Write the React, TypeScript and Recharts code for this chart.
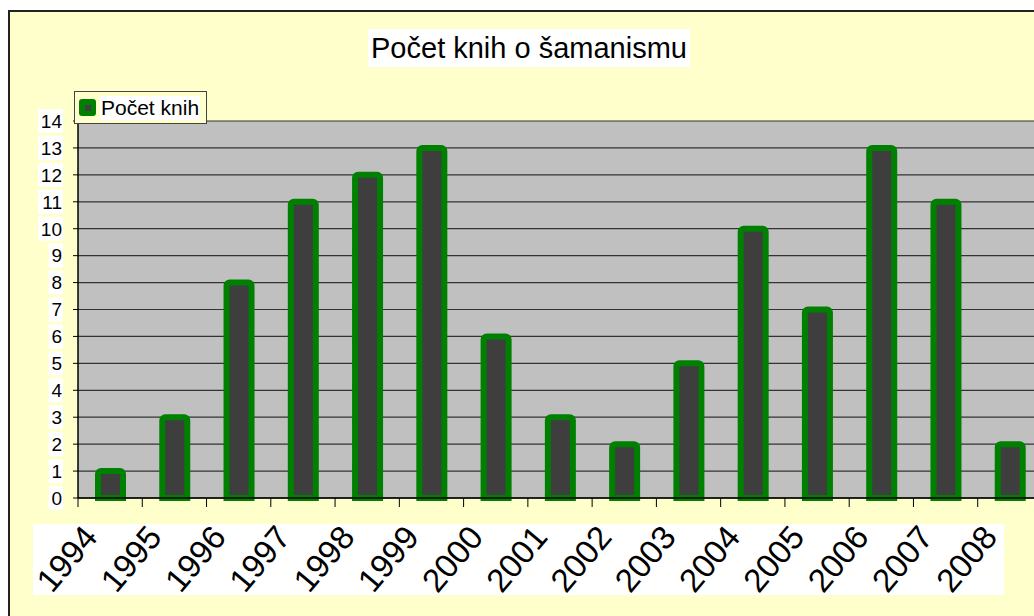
import React from 'react';
import {Bar, BarChart, CartesianGrid, Legend, XAxis, YAxis} from "recharts";

const years = ['1994', '1995', '1996', '1997', '1998', '1999', '2000', '2001', '2002', '2003', '2004', '2005', '2006', '2007', '2008'];
const bookCounts = [1, 3, 8, 11, 12, 13, 6, 3, 2, 5, 10, 7, 13, 11, 2];
const yTicks = [0, 1, 2, 3, 4, 5, 6, 7, 8, 9, 10, 11, 12, 13, 14];

const data = years.map((year, i) => ({year, count: bookCounts[i]}));

const FONT = '"Liberation Sans", Arial, sans-serif';

// plot box: left 78, top 121, right 1042 (off screen), bottom 498
const CHART_W = 1100;
const CHART_H = 616;
const MARGIN = {top: 121, right: 58, bottom: 18, left: 0};
const Y_AXIS_W = 78;
const PLOT_W = CHART_W - MARGIN.left - MARGIN.right - Y_AXIS_W;
const BAND = PLOT_W / years.length;

const YTick = (props: any) => {
    const {x, y, payload} = props;
    const label = String(payload.value);
    const w = label.length * 10.5 + 4;
    return (
        <g>
            <rect x={x - w + 1} y={y - 12} width={w} height={24} fill="#ffffff"/>
            <text x={x} y={y} dy="0.36em" textAnchor="end" fontSize={19} fontFamily={FONT} fill="#000">
                {label}
            </text>
        </g>
    );
};

const XTick = (props: any) => {
    const {x, y, payload} = props;
    const left = x - BAND / 2;
    return (
        <g>
            <line x1={left} x2={left} y1={y} y2={y + 9} stroke="#000" strokeWidth={1}/>
            <text transform={`translate(${x - 11},${y + 40}) rotate(-50)`} textAnchor="end"
                  fontSize={33} fontFamily={FONT} fill="#000">
                {payload.value}
            </text>
        </g>
    );
};

const LegendBox = () => (
    <div style={{
        width: 131, height: 31, border: '1px solid #444', background: '#ffffcc',
        display: 'flex', alignItems: 'center', fontFamily: FONT, fontSize: 21, boxSizing: 'content-box'
    }}>
        <div style={{
            width: 17, height: 17, marginLeft: 4, borderRadius: 3, background: '#008000',
            display: 'flex', alignItems: 'center', justifyContent: 'center'
        }}>
            <div style={{width: 6, height: 6, background: '#404040'}}/>
        </div>
        <span style={{background: '#fff', marginLeft: 4, lineHeight: '24px', padding: '0 1px'}}>Počet knih</span>
    </div>
);

const App = () => {
    return (
        <div style={{position: 'absolute', left: 0, top: 0, width: 1034, height: 616, overflow: 'hidden', background: '#fff'}}>
            <div style={{
                position: 'absolute', left: 8, top: 10, width: 1100, height: 700,
                background: '#ffffcc', borderLeft: '2px solid #222', borderTop: '2px solid #222'
            }}/>
            <div style={{position: 'absolute', left: 33, top: 524, width: 971, height: 71, background: '#fff'}}/>
            <div style={{
                position: 'absolute', left: 368, top: 29, width: 322, height: 38, background: '#fff',
                fontFamily: FONT, fontSize: 29, lineHeight: '38px', textAlign: 'center', color: '#000'
            }}>
                Počet knih o šamanismu
            </div>
            <div style={{position: 'absolute', left: 0, top: 0}}>
                <BarChart width={CHART_W} height={CHART_H} data={data} margin={MARGIN} barCategoryGap={0}>
                    <CartesianGrid horizontal={true} vertical={false} stroke="#333" strokeWidth={1.2}
                                   fill="#c0c0c0" fillOpacity={1}/>
                    <XAxis dataKey="year" height={100} interval={0} tickLine={false} tickSize={0} tickMargin={0}
                           axisLine={{stroke: '#000', strokeWidth: 1.5}} tick={<XTick/>}/>
                    <YAxis width={Y_AXIS_W} domain={[0, 14]} ticks={yTicks} interval={0} tickSize={5} tickMargin={11}
                           axisLine={{stroke: '#000', strokeWidth: 1.5}} tickLine={{stroke: '#000'}} tick={<YTick/>}/>
                    <Legend layout="horizontal" verticalAlign="middle" align="center"
                            wrapperStyle={{left: 74, top: 91, width: 133, height: 33}} content={<LegendBox/>}/>
                    <Bar dataKey="count" name="Počet knih" barSize={25} fill="#3e3e3e" stroke="#008000"
                         strokeWidth={6} radius={[3, 3, 0, 0]} isAnimationActive={false}/>
                </BarChart>
            </div>
        </div>
    );
}

export default App;
